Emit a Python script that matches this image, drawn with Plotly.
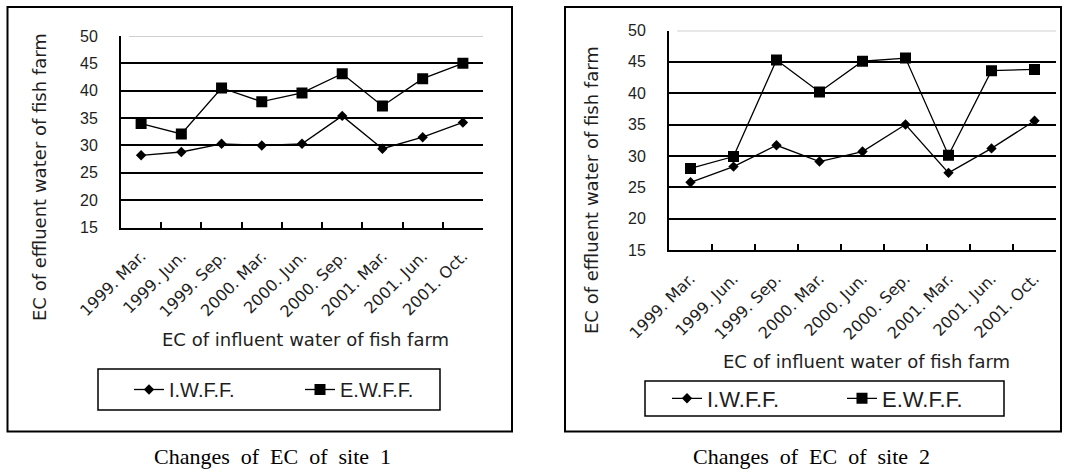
import plotly.graph_objects as go

# ---------------- data ----------------
categories = ["1999. Mar.", "1999. Jun.", "1999. Sep.", "2000. Mar.", "2000. Jun.",
              "2000. Sep.", "2001. Mar.", "2001. Jun.", "2001. Oct."]
site1_iwff = [28.2, 28.8, 30.3, 30.0, 30.3, 35.4, 29.4, 31.5, 34.2]
site1_ewff = [34.0, 32.1, 40.5, 38.0, 39.6, 43.1, 37.2, 42.2, 45.0]
site2_iwff = [25.8, 28.3, 31.7, 29.1, 30.7, 35.0, 27.3, 31.2, 35.6]
site2_ewff = [28.0, 29.9, 45.3, 40.2, 45.1, 45.6, 30.1, 43.6, 43.8]
series_names = ["I.W.F.F.", "E.W.F.F."]
y_title = "EC of effluent water of fish farm"
x_title = "EC of influent water of fish farm"
captions = ["Changes\u00a0 of\u00a0 EC\u00a0 of\u00a0 site\u00a0 1",
            "Changes\u00a0 of\u00a0 EC\u00a0 of\u00a0 site\u00a0 2"]

W, H = 1068, 472
def px(x): return x / W
def py(y): return 1 - y / H

TXT = "#1e1e1e"
SANS = "Liberation Sans, Arial, sans-serif"
WIDE = "DejaVu Sans, sans-serif"
SERIF = "Liberation Serif, Times New Roman, serif"

fig = go.Figure()

def add_site(iw, ew, xa, ya, leg, dsize, ssize):
    fig.add_trace(go.Scatter(x=categories, y=iw, name=series_names[0], mode="lines+markers",
                             line=dict(color="black", width=1.3),
                             marker=dict(symbol="diamond", size=dsize, color="black"),
                             xaxis=xa, yaxis=ya, legend=leg))
    fig.add_trace(go.Scatter(x=categories, y=ew, name=series_names[1], mode="lines+markers",
                             line=dict(color="black", width=1.3),
                             marker=dict(symbol="square", size=ssize, color="black"),
                             xaxis=xa, yaxis=ya, legend=leg))

add_site(site1_iwff, site1_ewff, "x", "y", "legend", 8, 11)
add_site(site2_iwff, site2_ewff, "x2", "y2", "legend2", 8, 11)

def xaxis_cfg(x0, x1, yanchor):
    return dict(domain=[px(x0), px(x1)], anchor=yanchor, type="category",
                categoryorder="array", categoryarray=categories, range=[-0.5, 8.5],
                tickson="boundaries", ticks="inside", ticklen=6, tickwidth=1.5,
                tickcolor="black", showline=True, linecolor="black", linewidth=2,
                showgrid=False, zeroline=False, tickangle=-45,
                tickfont=dict(family=WIDE, size=16, color=TXT), ticklabelstandoff=11)

def yaxis_cfg(y0, y1, xanchor):
    return dict(domain=[py(y1), py(y0)], anchor=xanchor, range=[15, 50], dtick=5,
                tick0=15, showgrid=True, gridcolor="black", gridwidth=1.6,
                showline=True, linecolor="black", linewidth=2, zeroline=False,
                ticks="inside", ticklen=7, tickwidth=1.5, tickcolor="black",
                tickfont=dict(family=SANS, size=16, color=TXT), ticklabelstandoff=18)

fig.update_layout(
    width=W, height=H, margin=dict(l=0, r=0, t=0, b=0, autoexpand=False),
    paper_bgcolor="white", plot_bgcolor="white",
    xaxis=xaxis_cfg(121, 483, "y"), yaxis=yaxis_cfg(36, 227.5, "x"),
    xaxis2=xaxis_cfg(669, 1056, "y2"), yaxis2=yaxis_cfg(30.5, 250, "x2"),
    legend=dict(orientation="h", x=px(129), xanchor="left", y=py(389.5), yanchor="middle",
                bgcolor="rgba(0,0,0,0)", borderwidth=0, entrywidth=126,
                font=dict(family=SANS, size=20, color=TXT)),
    legend2=dict(orientation="h", x=px(667), xanchor="left", y=py(398.5), yanchor="middle",
                 bgcolor="rgba(0,0,0,0)", borderwidth=0, entrywidth=130,
                 font=dict(family=SANS, size=22, color=TXT)),
    showlegend=True,
)

shapes = []
# outer frames
shapes.append(dict(type="rect", xref="paper", yref="paper", x0=px(7.5), x1=px(512),
                   y0=py(431.5), y1=py(7), line=dict(color="black", width=2)))
shapes.append(dict(type="rect", xref="paper", yref="paper", x0=px(565), x1=px(1061),
                   y0=py(431.5), y1=py(7), line=dict(color="black", width=2)))
# legend frames
shapes.append(dict(type="rect", xref="paper", yref="paper", x0=px(98), x1=px(440),
                   y0=py(410), y1=py(369), line=dict(color="black", width=1.5)))
shapes.append(dict(type="rect", xref="paper", yref="paper", x0=px(645), x1=px(1004),
                   y0=py(416), y1=py(381), line=dict(color="black", width=1.5)))
# light top gridline at 50
shapes.append(dict(type="line", xref="x domain", yref="y", x0=0.022, x1=1, y0=50, y1=50,
                   line=dict(color="#cfcfcf", width=2), layer="above"))
shapes.append(dict(type="line", xref="x2 domain", yref="y2", x0=0.021, x1=1, y0=50, y1=50,
                   line=dict(color="#cfcfcf", width=2), layer="above"))
fig.update_layout(shapes=shapes)

def note(text, x, y, font, angle=0):
    return dict(text=text, x=px(x), y=py(y), xref="paper", yref="paper", showarrow=False,
                xanchor="center", yanchor="middle", textangle=angle, font=font)

tf = dict(family=WIDE, size=18, color=TXT)
cf = dict(family=SERIF, size=22, color="black")
ann = [
    note(y_title, 39, 177, tf, -90),
    note(y_title, 591, 190, tf, -90),
    note(x_title, 305, 339, tf),
    note(x_title, 866, 361, tf),
    note(captions[0], 272, 456, cf),
    note(captions[1], 811, 456, cf),
]
fig.update_layout(annotations=ann)

fig.write_html("out.html")
